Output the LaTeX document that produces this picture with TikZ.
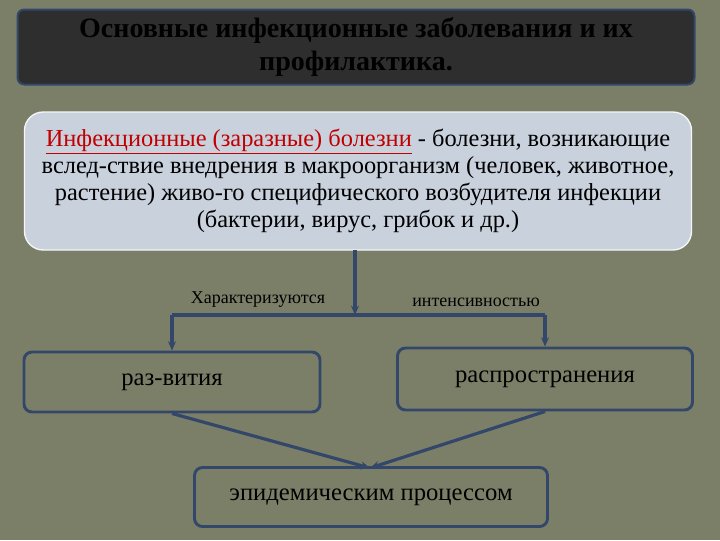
\documentclass[tikz,border=0pt]{standalone}
\usepackage{fontspec}
\setmainfont{Liberation Serif}
\usetikzlibrary{arrows.meta}
\definecolor{bg}{HTML}{7C7F68}
\definecolor{ln}{HTML}{33476A}
\definecolor{boxfill}{HTML}{C9D1DD}
\definecolor{red1}{HTML}{C00000}
\tikzset{box/.style={draw=ln,line width=2.2pt,rounded corners=6pt,fill=bg},
con/.style={draw=ln,line width=2.4pt,-{Stealth[length=7pt,width=6pt]}},
seg/.style={draw=ln,line width=2.4pt},
lbl/.style={font=\fontsize{13.5}{15}\selectfont,text=black}}
\begin{document}
\begin{tikzpicture}[x=0.75pt,y=-0.75pt]
\useasboundingbox (0,0) rectangle (720,540);
\fill[bg] (0,0) rectangle (720,540);
\node[draw=ln,line width=1.5pt,rounded corners=5pt,fill=black!82,minimum width=677*0.75pt,minimum height=75*0.75pt] (title) at (356,47) {};
\node[text=black,align=center,font=\bfseries\fontsize{21}{25}\selectfont] at (title) {Основные инфекционные заболевания и их\\профилактика.};
\node[draw=white!80!boxfill,line width=1pt,rounded corners=14pt,fill=boxfill,minimum width=667*0.75pt,minimum height=138*0.75pt] (def) at (358,181) {};
\node[align=center,font=\fontsize{18.3}{20.3}\selectfont] at (def) {\textcolor{red1}{\underline{Инфекционные (заразные) болезни}} - болезни, возникающие\\вслед-ствие внедрения в макроорганизм (человек, животное,\\растение) живо-го специфического возбудителя инфекции\\(бактерии, вирус, грибок и др.)};
\node[box,minimum width=296*0.75pt,minimum height=60*0.75pt] (a) at (172,382) {};
\node[font=\fontsize{18.5}{20}\selectfont] at (a) {раз-вития};
\node[box,minimum width=295*0.75pt,minimum height=62*0.75pt] (b) at (545,379) {};
\node[font=\fontsize{18.5}{20}\selectfont] at (b) {распространения};
\node[box,minimum width=353*0.75pt,minimum height=59*0.75pt] (c) at (371,497) {};
\node[font=\fontsize{18.5}{20}\selectfont] at (c) {эпидемическим процессом};
\coordinate (top) at (355,250);
\coordinate (j) at (355,315);
\coordinate (jl) at (172,315);
\coordinate (jr) at (545,315);
\coordinate (m) at (370,468);
\draw[con] (top) -- (j);
\draw[seg] (jl) -- (jr);
\draw[con] (jl) -- (a.north);
\draw[con] (jr) -- (b.north);
\draw[con] (a.south) -- (m);
\draw[con] (b.south) -- (m);
\node[lbl] at (258,300) {Характеризуются};
\node[lbl] at (476,302) {интенсивностью};
\end{tikzpicture}
\end{document}
